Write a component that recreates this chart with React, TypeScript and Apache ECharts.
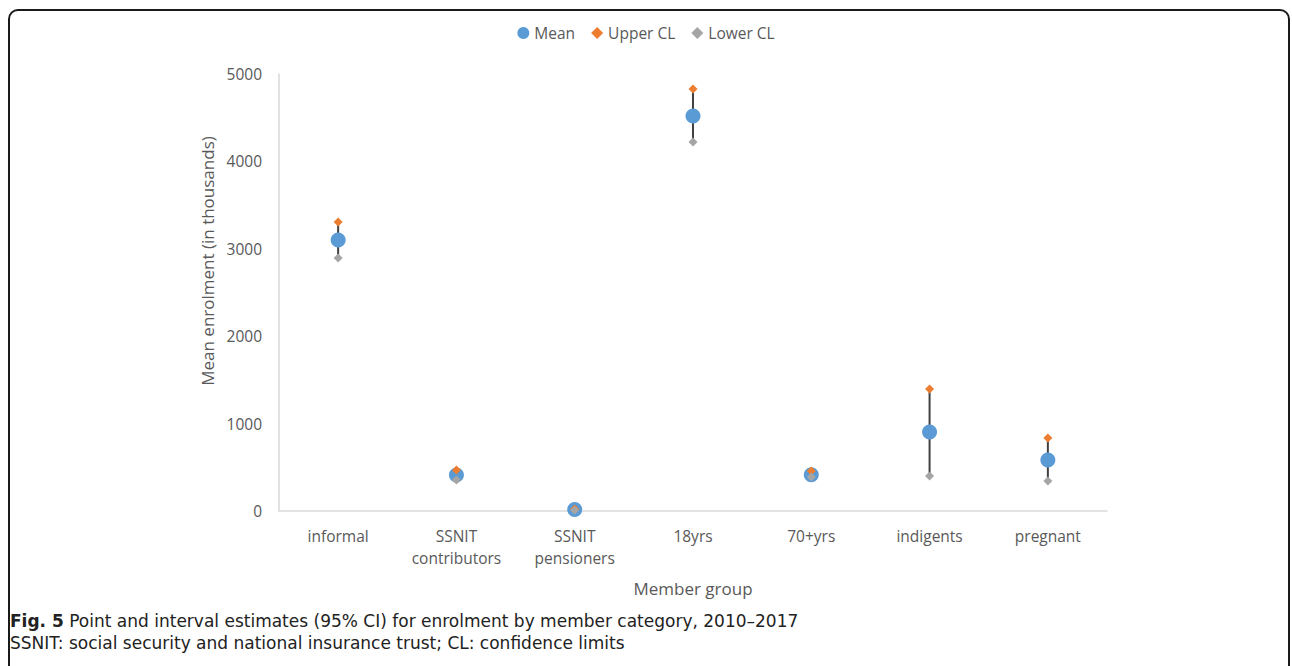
import React, { useEffect, useRef } from "react";
import * as echarts from "echarts";

const categories = [
  "informal",
  "SSNIT\ncontributors",
  "SSNIT\npensioners",
  "18yrs",
  "70+yrs",
  "indigents",
  "pregnant",
];
const meanValues = [3100, 412, 16, 4520, 415, 904, 584];
const upperValues = [3307, 470, 22, 4828, 458, 1396, 835];
const lowerValues = [2895, 355, 10, 4222, 390, 400, 343];
const yTicks = { min: 0, max: 5000, interval: 1000 };

const FONT = "'Open Sans', 'Noto Sans', sans-serif";
const CAPTION_FONT = "'DejaVu Sans', 'Noto Sans', sans-serif";
const TEXT = "#595959";
const CAPTION = "#222222";

export default function App() {
  const ref = useRef<HTMLDivElement>(null);

  useEffect(() => {
    if (!ref.current) return;
    const chart = echarts.init(ref.current, undefined, { renderer: "svg" });

    const errorData = categories.map((_, i) => [i, lowerValues[i], upperValues[i]]);

    chart.setOption({
      animation: false,
      backgroundColor: "#ffffff",
      textStyle: { fontFamily: FONT },
      legend: {
        top: 20,
        left: "center",
        itemWidth: 12,
        itemHeight: 12,
        itemGap: 16,
        textStyle: { fontFamily: FONT, fontSize: 15.5, color: TEXT },
        data: [
          { name: "Mean", icon: "circle" },
          { name: "Upper CL", icon: "diamond" },
          { name: "Lower CL", icon: "diamond" },
        ],
      },
      grid: { left: 279, right: 185, top: 74, bottom: 155 },
      xAxis: {
        type: "category",
        data: categories,
        boundaryGap: true,
        axisLine: { show: true, lineStyle: { color: "#d9d9d9", width: 1.5 } },
        axisTick: { show: false },
        axisLabel: {
          fontFamily: FONT,
          fontSize: 15.5,
          color: TEXT,
          margin: 14,
          lineHeight: 22,
          interval: 0,
        },
        name: "Member group",
        nameLocation: "middle",
        nameGap: 69,
        nameTextStyle: { fontFamily: FONT, fontSize: 17, color: TEXT },
      },
      yAxis: {
        type: "value",
        min: yTicks.min,
        max: yTicks.max,
        interval: yTicks.interval,
        splitLine: { show: false },
        axisLine: { show: true, lineStyle: { color: "#d9d9d9", width: 1.5 } },
        axisTick: { show: false },
        axisLabel: {
          fontFamily: FONT,
          fontSize: 15.5,
          color: TEXT,
          margin: 17,
          formatter: (v: number) => String(v),
        },
      },
      graphic: [
        {
          type: "rect",
          shape: { x: 9, y: 10, width: 1280, height: 720, r: 9 },
          style: { fill: "none", stroke: "#1a1a1a", lineWidth: 2 },
          silent: true,
        },
        {
          type: "text",
          x: 207,
          y: 261,
          rotation: Math.PI / 2,
          style: {
            text: "Mean enrolment (in thousands)",
            fontFamily: FONT,
            fontSize: 17,
            fill: TEXT,
            align: "center",
            verticalAlign: "middle",
          },
        },
        {
          type: "text",
          left: 10,
          top: 610,
          style: {
            text: "{b|Fig. 5} Point and interval estimates (95% CI) for enrolment by member category, 2010–2017",
            fontFamily: CAPTION_FONT,
            fontSize: 17,
            lineHeight: 21,
            fill: CAPTION,
            rich: {
              b: { fontFamily: CAPTION_FONT, fontSize: 17, lineHeight: 21, fontWeight: "bold", fill: CAPTION },
            },
          },
        },
        {
          type: "text",
          left: 10,
          top: 632,
          style: {
            text: "SSNIT: social security and national insurance trust; CL: confidence limits",
            fontFamily: CAPTION_FONT,
            fontSize: 17,
            lineHeight: 21,
            fill: CAPTION,
          },
        },
      ],
      series: [
        {
          type: "custom",
          name: "CI",
          data: errorData,
          z: 1,
          renderItem: (_params: any, api: any) => {
            const i = api.value(0);
            const lo = api.coord([i, api.value(1)]);
            const hi = api.coord([i, api.value(2)]);
            return {
              type: "line",
              shape: { x1: lo[0], y1: lo[1], x2: hi[0], y2: hi[1] },
              style: { stroke: "#404040", lineWidth: 2 },
            };
          },
        },
        {
          type: "scatter",
          name: "Mean",
          data: meanValues,
          symbol: "circle",
          symbolSize: 15,
          itemStyle: { color: "#5B9BD5", opacity: 1 },
          z: 2,
        },
        {
          type: "scatter",
          name: "Upper CL",
          data: upperValues,
          symbol: "diamond",
          symbolSize: 9,
          itemStyle: { color: "#ED7D31", opacity: 1 },
          z: 3,
        },
        {
          type: "scatter",
          name: "Lower CL",
          data: lowerValues,
          symbol: "diamond",
          symbolSize: 9,
          itemStyle: { color: "#A5A5A5", opacity: 1 },
          z: 4,
        },
      ],
    });

    return () => chart.dispose();
  }, []);

  return (
    <div
      ref={ref}
      style={{ position: "absolute", left: 0, top: 0, width: 1292, height: 666 }}
    />
  );
}
